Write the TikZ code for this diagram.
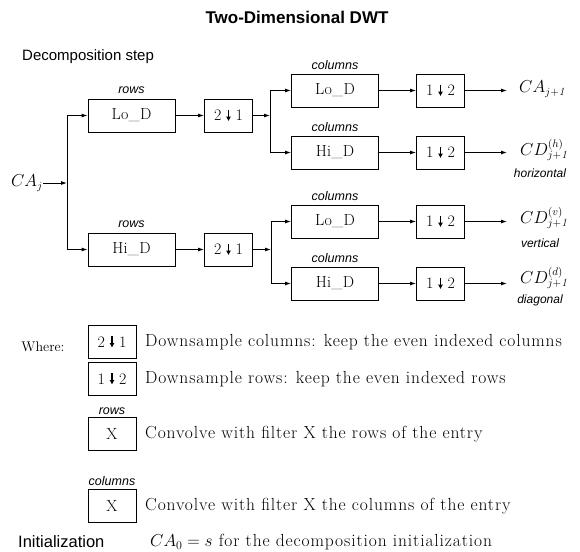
\documentclass[tikz,border=0pt]{standalone}
\usepackage{fontspec}
\newfontfamily\hv{Liberation Sans}
\newfontfamily\lmw[LetterSpace=5]{Latin Modern Roman}
\newfontfamily\lmt[LetterSpace=2]{Latin Modern Roman}
\usetikzlibrary{arrows.meta}
\newcommand{\dnar}{\tikz[baseline=0pt]\draw[line width=1.4pt,-{Latex[length=4.5pt,width=5pt]}] (0,11pt) -- (0,-0.3pt);}
\newcommand{\dsym}[2]{#1\hspace{4.5pt}\dnar\hspace{4.5pt}#2}
\begin{document}
\begin{tikzpicture}[x=1pt,y=-1pt,
  blk/.style={draw,line width=0.9pt,minimum width=87pt,minimum height=33pt,inner sep=0pt,font=\lmt\fontsize{16}{16}\selectfont},
  ds/.style={draw,line width=0.9pt,minimum width=48pt,minimum height=33pt,inner sep=0pt,font=\fontsize{16}{16}\selectfont},
  lab/.style={font=\hv\itshape\fontsize{12.5}{12.5}\selectfont,inner sep=0pt},
  sub/.style={font=\hv\itshape\fontsize{12}{12}\selectfont,inner sep=0pt},
  outl/.style={font=\fontsize{16}{16}\selectfont,inner sep=0pt},
  txt/.style={font=\lmw\fontsize{17.5}{17.5}\selectfont,inner sep=0pt,anchor=west},
  conn/.style={line width=0.9pt},
  arr/.style={line width=0.9pt,-{Latex[length=6pt,width=4pt]}}]
\useasboundingbox (0,0) rectangle (580,551);
% title
\node[font=\hv\bfseries\fontsize{17}{17}\selectfont] (title) at (297,17) {Two-Dimensional DWT};
\node[font=\hv\fontsize{15}{15}\selectfont,anchor=west,inner sep=0pt] (dec) at (22,57) {Decomposition step};
% input
\node[outl] (caj) at (27,183) {$CA_j$};
\coordinate (b0) at (67,183);
\coordinate (b0t) at (67,115.5);
\coordinate (b0b) at (67,249.5);
% row filters
\node[blk] (lor) at (131.5,115.5) {Lo\_D};
\node[lab] (lorl) at (131.5,90) {rows};
\node[blk] (hir) at (131.5,249.5) {Hi\_D};
\node[lab] (hirl) at (131.5,224.5) {rows};
\node[ds] (da) at (228.5,115.5) {\dsym21};
\node[ds] (db) at (228.5,249.5) {\dsym21};
% column branch points
\coordinate (b1) at (270,115.5);
\coordinate (b1t) at (270,90.5);
\coordinate (b1b) at (270,152.5);
\coordinate (b2) at (271,249.5);
\coordinate (b2t) at (271,221.5);
\coordinate (b2b) at (271,283.5);
% column filters
\node[blk] (c1) at (335,90.5) {Lo\_D};
\node[lab] (c1l) at (335,65) {columns};
\node[blk] (c2) at (335,152.5) {Hi\_D};
\node[lab] (c2l) at (335,127) {columns};
\node[blk] (c3) at (335,221.5) {Lo\_D};
\node[lab] (c3l) at (335,196) {columns};
\node[blk] (c4) at (335,283.5) {Hi\_D};
\node[lab] (c4l) at (335,258) {columns};
% row downsamplers
\node[ds] (e1) at (440.5,90.5) {\dsym12};
\node[ds] (e2) at (440.5,152.5) {\dsym12};
\node[ds] (e3) at (440.5,221.5) {\dsym12};
\node[ds] (e4) at (440.5,283.5) {\dsym12};
% outputs
\coordinate (o1) at (507,90.5);
\coordinate (o2) at (507,152.5);
\coordinate (o3) at (507,221.5);
\coordinate (o4) at (507,283.5);
\node[outl,anchor=west] (ca1) at (519,89) {$CA_{j+\mathit{1}}$};
\node[outl,anchor=west] (cd1) at (520,150) {$CD_{j+\mathit{1}}^{(h)}$};
\node[sub] (hz) at (540,173) {horizontal};
\node[outl,anchor=west] (cd2) at (520,218) {$CD_{j+\mathit{1}}^{(v)}$};
\node[sub] (vt) at (540,243) {vertical};
\node[outl,anchor=west] (cd3) at (520,278) {$CD_{j+\mathit{1}}^{(d)}$};
\node[sub] (dg) at (540,300) {diagonal};
% connectors
\draw[arr] (caj.east) -- (b0);
\draw[conn] (b0t) -- (b0b);
\draw[arr] (b0t) -- (lor.west);
\draw[arr] (b0b) -- (hir.west);
\draw[arr] (lor) -- (da);
\draw[arr] (hir) -- (db);
\draw[arr] (da.east) -- (b1);
\draw[arr] (db.east) -- (b2);
\draw[conn] (b1t) -- (b1b);
\draw[conn] (b2t) -- (b2b);
\draw[arr] (b1t) -- (c1.west);
\draw[arr] (b1b) -- (c2.west);
\draw[arr] (b2t) -- (c3.west);
\draw[arr] (b2b) -- (c4.west);
\draw[arr] (c1) -- (e1);
\draw[arr] (c2) -- (e2);
\draw[arr] (c3) -- (e3);
\draw[arr] (c4) -- (e4);
\draw[arr] (e1.east) -- (o1);
\draw[arr] (e2.east) -- (o2);
\draw[arr] (e3.east) -- (o3);
\draw[arr] (e4.east) -- (o4);
% legend
\node[font=\fontsize{14}{14}\selectfont,inner sep=0pt] (where) at (43,347) {Where:};
\node[ds] (l1) at (112,342) {\dsym21};
\node[txt] (t1) at (145,342) {Downsample columns: keep the even indexed columns};
\node[ds] (l2) at (112,379) {\dsym12};
\node[txt] (t2) at (145,379) {Downsample rows: keep the even indexed rows};
\node[lab] (l3l) at (112,411) {rows};
\node[ds] (l3) at (112,434) {X};
\node[txt] (t3) at (145,434) {Convolve with filter X the rows of the entry};
\node[lab] (l4l) at (112,481) {columns};
\node[ds] (l4) at (112,506) {X};
\node[txt] (t4) at (145,506) {Convolve with filter X the columns of the entry};
\node[font=\hv\fontsize{16.5}{16.5}\selectfont,anchor=west,inner sep=0pt] (init) at (18,542) {Initialization};
\node[txt] (t5) at (150,542) {$CA_0 = s$ for the decomposition initialization};
\end{tikzpicture}
\end{document}
